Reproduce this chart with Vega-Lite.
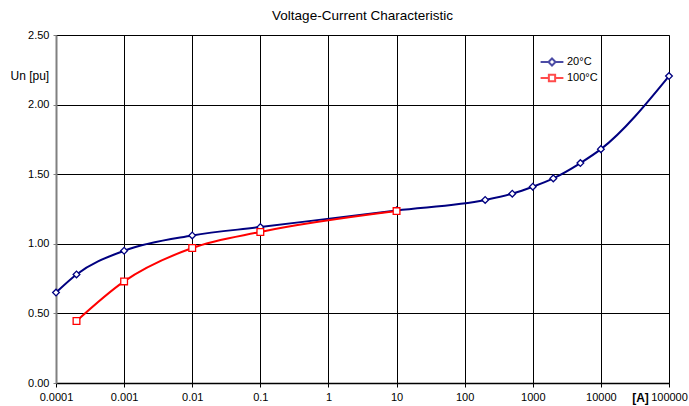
{
  "$schema": "https://vega.github.io/schema/vega-lite/v6.json",
  "width": 613,
  "height": 348,
  "autosize": "none",
  "padding": {"left": 56, "top": 35, "right": 20, "bottom": 23},
  "background": "white",
  "config": {
    "font": "Liberation Sans",
    "view": {"stroke": "#808080", "strokeWidth": 1},
    "axis": {"labelFont": "Liberation Sans", "titleFont": "Liberation Sans", "labelColor": "#000", "titleColor": "#000"}
  },
  "title": {"text": "Voltage-Current Characteristic", "fontSize": 13.5, "fontWeight": "normal", "font": "Liberation Sans", "anchor": "middle", "offset": 7, "color": "#000"},
  "data": {"values": [
    {"I": 0.0001, "U": 0.65, "series": "20°C"},
    {"I": 0.0002, "U": 0.78, "series": "20°C"},
    {"I": 0.001, "U": 0.95, "series": "20°C"},
    {"I": 0.01, "U": 1.06, "series": "20°C"},
    {"I": 0.1, "U": 1.12, "series": "20°C"},
    {"I": 10, "U": 1.24, "series": "20°C"},
    {"I": 200, "U": 1.315, "series": "20°C"},
    {"I": 500, "U": 1.36, "series": "20°C"},
    {"I": 1000, "U": 1.41, "series": "20°C"},
    {"I": 2000, "U": 1.47, "series": "20°C"},
    {"I": 5000, "U": 1.58, "series": "20°C"},
    {"I": 10000, "U": 1.68, "series": "20°C"},
    {"I": 100000, "U": 2.205, "series": "20°C"},
    {"I": 0.0002, "U": 0.445, "series": "100°C"},
    {"I": 0.001, "U": 0.73, "series": "100°C"},
    {"I": 0.01, "U": 0.97, "series": "100°C"},
    {"I": 0.1, "U": 1.085, "series": "100°C"},
    {"I": 10, "U": 1.235, "series": "100°C"}
  ]},
  "encoding": {
    "x": {
      "field": "I", "type": "quantitative",
      "scale": {"type": "log", "domain": [0.0001, 100000], "nice": false},
      "axis": {
        "values": [0.0001, 0.001, 0.01, 0.1, 1, 10, 100, 1000, 10000, 100000],
        "format": "~g", "labelFontSize": 11, "labelPadding": 4,
        "grid": true, "gridColor": "#000", "gridOpacity": 1, "gridWidth": 1,
        "domainColor": "#000", "domainWidth": 1.5, "tickColor": "#000", "tickSize": 4,
        "labelFlush": false,
        "title": "[A]", "titleFontSize": 12, "titleFontWeight": "bold",
        "titleX": 584, "titleY": 14, "titleBaseline": "middle", "titleAnchor": "middle"
      }
    },
    "y": {
      "field": "U", "type": "quantitative",
      "scale": {"domain": [0, 2.5], "nice": false, "zero": true},
      "axis": {
        "values": [0, 0.5, 1, 1.5, 2, 2.5],
        "format": ".2f", "labelFontSize": 11, "labelPadding": 4,
        "grid": true, "gridColor": "#000", "gridOpacity": 1, "gridWidth": 1,
        "domainColor": "#808080", "domainWidth": 2, "tickColor": "#808080", "tickSize": 3,
        "labelFlush": false,
        "title": "Un [pu]", "titleFontSize": 12, "titleFontWeight": "normal",
        "titleAngle": 0, "titleAlign": "left", "titleBaseline": "middle",
        "titleX": -46, "titleY": 40
      }
    },
    "color": {
      "field": "series", "type": "nominal",
      "scale": {"domain": ["20°C", "100°C"], "range": ["#000080", "#FF0000"]},
      "legend": null
    }
  },
  "layer": [
    {"mark": {"type": "line", "interpolate": "monotone", "strokeWidth": 2}},
    {
      "mark": {"type": "point", "filled": false, "fill": "white", "fillOpacity": 1, "size": 45, "strokeWidth": 1.3},
      "encoding": {
        "shape": {
          "field": "series", "type": "nominal",
          "scale": {"domain": ["20°C", "100°C"], "range": ["diamond", "square"]},
          "legend": null
        }
      }
    },
    {
      "transform": [{"filter": "datum.I < 0"}],
      "mark": {"type": "point", "filled": false, "strokeWidth": 1.8},
      "encoding": {
        "stroke": {
          "field": "series", "type": "nominal",
          "scale": {"domain": ["20°C"], "range": ["#000080"]},
          "legend": {
            "title": null, "orient": "none", "legendX": 489, "legendY": 20,
            "labelFontSize": 11, "labelColor": "#000", "symbolSize": 130, "symbolStrokeWidth": 2,
            "symbolType": "M-2,0H-0.62M0.62,0H2M0,-0.62L0.62,0L0,0.62L-0.62,0Z",
            "labelOffset": 8
          }
        }
      }
    },
    {
      "transform": [{"filter": "datum.I < 0"}],
      "mark": {"type": "point", "filled": false, "strokeWidth": 1.8},
      "encoding": {
        "stroke": {
          "field": "series", "type": "nominal",
          "scale": {"domain": ["100°C"], "range": ["#FF0000"]},
          "legend": {
            "title": null, "orient": "none", "legendX": 489, "legendY": 36,
            "labelFontSize": 11, "labelColor": "#000", "symbolSize": 130, "symbolStrokeWidth": 2,
            "symbolType": "M-2,0H-0.55M0.55,0H2M-0.55,-0.55H0.55V0.55H-0.55Z",
            "labelOffset": 8
          }
        }
      }
    }
  ],
  "resolve": {"scale": {"shape": "independent", "stroke": "independent"}}
}
